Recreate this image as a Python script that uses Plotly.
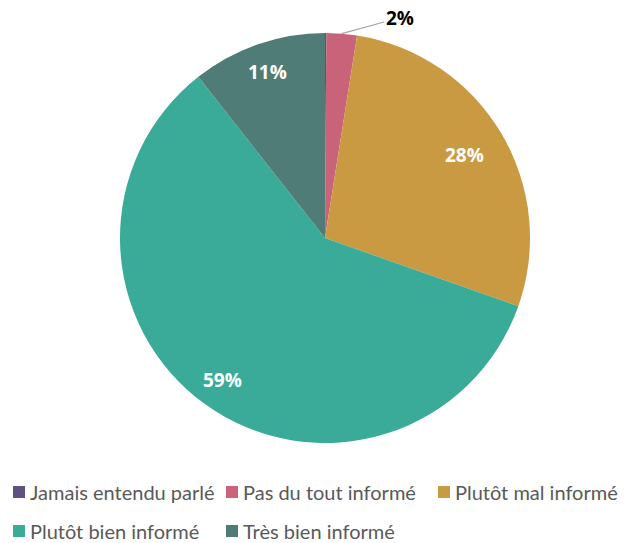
import plotly.graph_objects as go
import math

categories = ["Jamais entendu parlé", "Pas du tout informé", "Plutôt mal informé",
              "Plutôt bien informé", "Très bien informé"]
values = [0.1, 2.4, 27.9, 59.0, 10.6]
colors = ["#5f5280", "#c8637a", "#c99a42", "#3aab98", "#4f7c76"]
slice_labels = ["", "2%", "28%", "59%", "11%"]

W, H = 625, 543
cx, cy, R = 325, 238, 205
label_radius = [0, 0, 0.79, 0.855, 0.855]   # fraction of radius for inside labels

fig = go.Figure(go.Pie(
    labels=categories,
    values=values,
    marker=dict(colors=colors, line=dict(width=0)),
    sort=False,
    direction="clockwise",
    rotation=0,
    textinfo="none",
    domain=dict(x=[(cx - R) / W, (cx + R) / W], y=[1 - (cy + R) / H, 1 - (cy - R) / H]),
    hoverinfo="label+percent",
    showlegend=False,
))

total = sum(values)
cum = 0.0
for i, v in enumerate(values):
    mid = (cum + v / 2) / total * 2 * math.pi
    cum += v
    if not slice_labels[i]:
        continue
    if label_radius[i] > 0:
        r = R * label_radius[i]
        px = cx + r * math.sin(mid)
        py = cy - r * math.cos(mid)
        fig.add_annotation(
            x=px / W, y=1 - py / H, xref="paper", yref="paper",
            xanchor="center", yanchor="middle",
            text="<b>" + slice_labels[i] + "</b>", showarrow=False,
            font=dict(family="Open Sans", size=19, color="white"),
        )
    else:
        px = cx + R * math.sin(mid)
        py = cy - R * math.cos(mid)
        fig.add_annotation(
            x=px / W, y=1 - py / H, xref="paper", yref="paper",
            xanchor="center", yanchor="middle",
            text="<b>" + slice_labels[i] + "</b>", showarrow=True, arrowhead=0,
            arrowwidth=1.2, arrowcolor="#a6a6a6", ax=58, ay=-16,
            font=dict(family="Open Sans", size=19, color="#000000"),
        )

# legend (two rows, like the original)
legend_pos = [(13, 492), (226, 492), (438, 492), (13, 531), (226, 531)]
sq = 12
for (lx, ly), name, col in zip(legend_pos, categories, colors):
    fig.add_shape(
        type="rect", xref="paper", yref="paper",
        x0=lx / W, x1=(lx + sq) / W, y0=1 - (ly + sq / 2) / H, y1=1 - (ly - sq / 2) / H,
        fillcolor=col, line=dict(width=0),
    )
    fig.add_annotation(
        x=(lx + 15) / W, y=1 - ly / H, xref="paper", yref="paper",
        xanchor="left", yanchor="middle", showarrow=False, text=name,
        font=dict(family="Lato", size=20, color="#595959"),
    )

fig.update_layout(
    width=W, height=H,
    margin=dict(l=0, r=0, t=0, b=0),
    paper_bgcolor="white",
    plot_bgcolor="white",
    showlegend=False,
)

fig.write_html("out.html")
